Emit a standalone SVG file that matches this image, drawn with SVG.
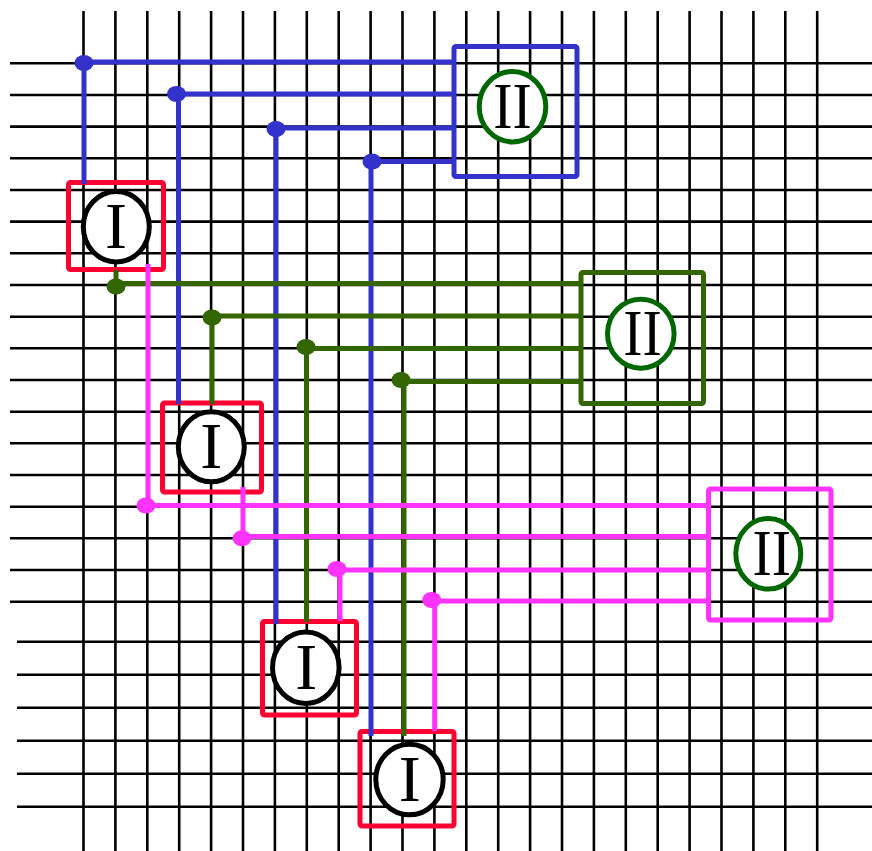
<svg xmlns="http://www.w3.org/2000/svg" width="872" height="851" viewBox="0 0 872 851">
<style>
.grid{stroke:#000;stroke-width:2.6;fill:none}
.blue{stroke:#3333cc;stroke-width:5;fill:none}
.green{stroke:#336600;stroke-width:5;fill:none}
.mag{stroke:#ff33ff;stroke-width:5;fill:none}
.dblue{fill:#3333cc}
.dgreen{fill:#336600}
.dmag{fill:#ff33ff}
.boxI{fill:none;stroke:#ff0033;stroke-width:5}
.cI{fill:#fff;stroke:#000;stroke-width:5}
.cII{fill:#fff;stroke:#006600;stroke-width:5}
.t{font-family:"Liberation Serif","Times New Roman",serif;font-size:66px;fill:#000;text-anchor:middle}
</style>
<rect width="872" height="851" fill="#fff"/>
<g id="grid" class="grid">
<path d="M83.5,11V851M115.4,11V851M147.3,11V851M179.2,11V851M211.1,11V851M243,11V851M274.9,11V851M306.8,11V851M338.7,11V851M370.6,11V851M402.5,11V851M434.4,11V851M466.3,11V851M498.2,11V851M530.1,11V851M562,11V851M593.9,11V851M625.8,11V851M657.7,11V851M689.6,11V851M721.5,11V851M753.4,11V851M785.3,11V851M817.2,11V851"/>
<path d="M10,63.3H872M10,95H872M10,126.6H872M10,158.3H872M10,190H872M10,221.6H872M10,253.3H872M10,285H872M10,316.7H872M10,348.3H872M10,380H872M10,411.7H872M10,443.3H872M10,475H872M10,506.7H872M10,538.3H872M10,570H872M10,601.7H872"/>
<path d="M17,641.7H872M17,674.7H872M17,707.7H872M17,740.7H872M17,773.7H872M17,806.7H872"/>
</g>
<g id="boxes">
<rect id="box-I1" class="boxI" x="68.5" y="182.5" width="95" height="87" rx="2"/>
<rect id="box-I2" class="boxI" x="162.5" y="403" width="99" height="89" rx="2"/>
<rect id="box-I3" class="boxI" x="262.5" y="621.5" width="94" height="93.5" rx="2"/>
<rect id="box-I4" class="boxI" x="360" y="731.5" width="94" height="94.5" rx="2"/>
<rect id="box-II1" x="454" y="46.5" width="123" height="130" rx="2" fill="none" stroke="#3333cc" stroke-width="5"/>
<rect id="box-II2" x="581" y="272.5" width="122.5" height="131" rx="2" fill="none" stroke="#336600" stroke-width="5"/>
<rect id="box-II3" x="708.5" y="489" width="122.5" height="131" rx="2" fill="none" stroke="#ff33ff" stroke-width="5"/>
</g>
<g id="connectors">
<path class="blue" d="M84,184V62H456"/>
<path class="blue" d="M178.5,404V94H456"/>
<path class="blue" d="M276,624V128H456"/>
<path class="blue" d="M371,736V161.5H456"/>
<ellipse class="dblue" cx="84" cy="63" rx="9.5" ry="8"/>
<ellipse class="dblue" cx="176.5" cy="94" rx="9.5" ry="8"/>
<ellipse class="dblue" cx="276" cy="129" rx="9.5" ry="8"/>
<ellipse class="dblue" cx="372" cy="161.5" rx="9.5" ry="8"/>
<path class="green" d="M116,270V286M116,283.5H581"/>
<path class="green" d="M212,404V316H581"/>
<path class="green" d="M306.5,622V348.5H581"/>
<path class="green" d="M404,736V381.5H581"/>
<ellipse class="dgreen" cx="116" cy="286.5" rx="9.5" ry="8"/>
<ellipse class="dgreen" cx="212" cy="317.5" rx="9.5" ry="8"/>
<ellipse class="dgreen" cx="306" cy="347" rx="9.5" ry="8"/>
<ellipse class="dgreen" cx="401" cy="380" rx="9.5" ry="8"/>
<path class="mag" d="M148,264V505.5H709"/>
<path class="mag" d="M243,487V536.5H709"/>
<path class="mag" d="M340,621V570H709"/>
<path class="mag" d="M434.7,731V601H709"/>
<ellipse class="dmag" cx="146" cy="505.5" rx="9.5" ry="8"/>
<ellipse class="dmag" cx="242" cy="538.3" rx="9.5" ry="8"/>
<ellipse class="dmag" cx="337" cy="569" rx="9.5" ry="8"/>
<ellipse class="dmag" cx="431.7" cy="600" rx="9.5" ry="8"/>
</g>
<g id="node-I1"><ellipse class="cI" cx="116.3" cy="226.7" rx="33" ry="35.2"/><text class="t" x="116" y="248.3">I</text></g>
<g id="node-I2"><ellipse class="cI" cx="211.3" cy="446.7" rx="33" ry="35"/><text class="t" x="211.2" y="468.3">I</text></g>
<g id="node-I3"><ellipse class="cI" cx="305.8" cy="667.7" rx="33.3" ry="35.8"/><text class="t" x="306.3" y="689.3">I</text></g>
<g id="node-I4"><ellipse class="cI" cx="409.5" cy="779.5" rx="33.7" ry="35.3"/><text class="t" x="409.7" y="800.7">I</text></g>
<g id="node-II1"><ellipse class="cII" cx="512.5" cy="106.7" rx="33.3" ry="35.2"/><text class="t" x="512.5" y="128.3" textLength="38.5" lengthAdjust="spacingAndGlyphs">II</text></g>
<g id="node-II2"><ellipse class="cII" cx="640.8" cy="333.7" rx="33.3" ry="34.5"/><text class="t" x="642.5" y="355" textLength="38.5" lengthAdjust="spacingAndGlyphs">II</text></g>
<g id="node-II3"><ellipse class="cII" cx="768.3" cy="553.8" rx="32.5" ry="35.3"/><text class="t" x="771.7" y="575" textLength="38.5" lengthAdjust="spacingAndGlyphs">II</text></g>
</svg>
